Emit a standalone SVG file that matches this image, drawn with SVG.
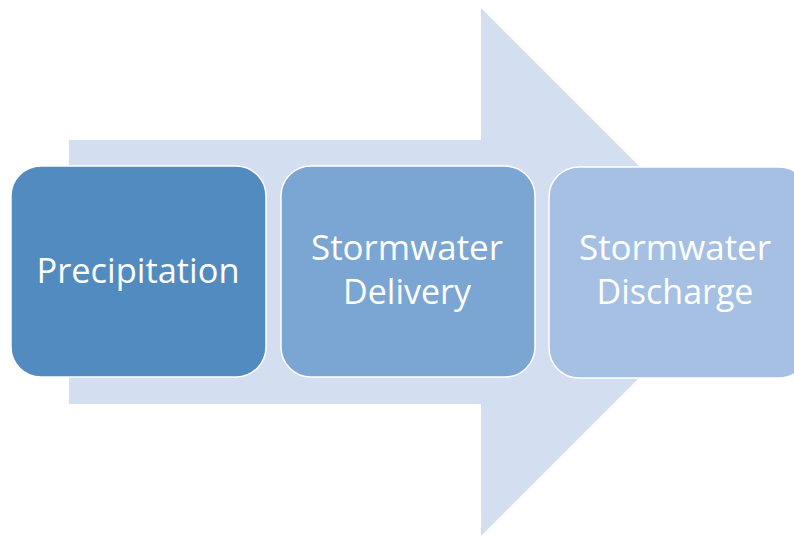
<svg xmlns="http://www.w3.org/2000/svg" width="794" height="536" viewBox="0 0 794 536">
<style>
.box{stroke:#ffffff;stroke-width:1.5}
.t{font-family:"Open Sans","Noto Sans","Liberation Sans",sans-serif;font-size:34px;fill:#ffffff;text-anchor:middle}
</style>
<rect width="794" height="536" fill="#ffffff"/>
<g id="arrow">
<polygon points="69,140 481,140 481,8 745,272 481,536 481,404 69,404" fill="#d3def0"/>
</g>
<g id="precipitation">
<rect class="box" x="11" y="166" width="255" height="211" rx="30" fill="#528bc0"/>
<text class="t" x="138" y="283" textLength="203" lengthAdjust="spacingAndGlyphs">Precipitation</text>
</g>
<g id="delivery">
<rect class="box" x="281" y="166" width="254" height="211" rx="30" fill="#7ba5d2"/>
<text class="t" x="407" y="260" textLength="192" lengthAdjust="spacingAndGlyphs">Stormwater</text>
<text class="t" x="407" y="304">Delivery</text>
</g>
<g id="discharge">
<rect class="box" x="549" y="167" width="260" height="211" rx="30" fill="#a5c0e3"/>
<text class="t" x="675" y="260" textLength="192" lengthAdjust="spacingAndGlyphs">Stormwater</text>
<text class="t" x="675" y="304">Discharge</text>
</g>
<g id="connectors"></g>
</svg>
